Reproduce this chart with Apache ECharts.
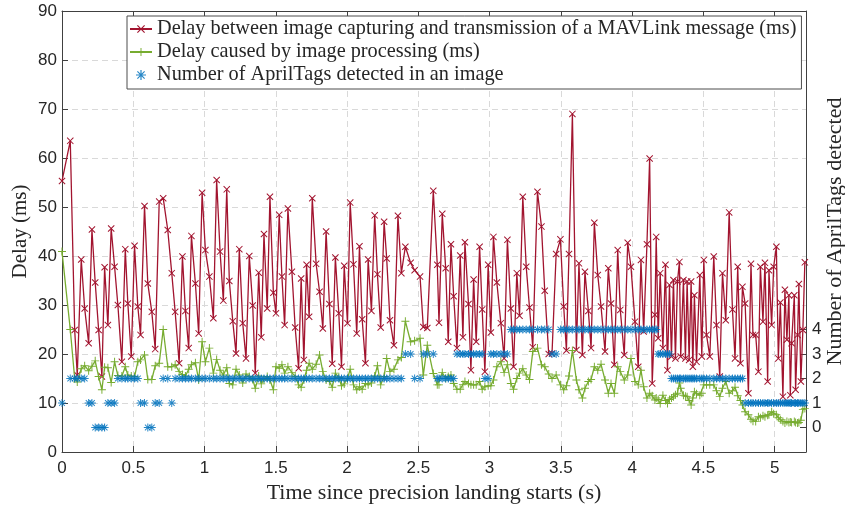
<!DOCTYPE html>
<html>
<head>
<meta charset="utf-8">
<script src="https://cdn.jsdelivr.net/npm/echarts@6/dist/echarts.min.js"></script>
<style>
  html, body { margin: 0; padding: 0; background: #fff; }
  #ecPanel { width: 845px; height: 506px; }
</style>
</head>
<body>
<div id="ecPanel"></div>
<script>
// time of each image (s)
var times = [
  0.000,0.058,0.089,0.107,0.135,0.159,0.187,0.210,0.233,0.257,0.280,0.299,0.322,0.345,0.369,0.392,0.420,0.444,0.462,0.486,0.509,0.532,0.551,0.579,0.602,0.630,0.654,0.682,0.710,0.742,0.770,0.794,0.822,0.845,0.866,
  0.889,0.908,0.936,0.959,0.983,1.006,1.034,1.062,1.085,1.109,1.132,1.156,1.174,1.198,1.221,1.244,1.268,1.291,1.314,1.338,1.356,1.380,1.398,1.417,1.440,1.459,1.483,1.501,1.524,1.543,1.562,1.585,1.613,1.636,1.660,1.678,1.697,1.716,1.734,1.756,
  1.783,1.807,1.830,1.853,1.876,1.896,1.918,1.942,1.961,1.980,2.003,2.022,2.045,2.068,2.087,2.106,2.129,2.148,2.171,2.194,2.213,2.236,2.260,2.278,2.301,2.329,2.357,2.381,2.409,2.446,2.474,2.512,2.535,2.563,
  2.605,2.633,2.645,2.668,2.692,2.710,2.729,2.748,2.771,2.794,2.813,2.827,2.852,2.869,2.888,2.906,2.930,2.948,2.967,2.990,3.009,3.027,3.051,3.079,3.102,3.125,3.149,3.168,3.191,3.210,3.233,3.257,3.280,3.303,3.336,3.364,3.387,3.415,3.438,3.467,3.497,
  3.520,3.539,3.557,3.581,3.609,3.627,3.651,3.669,3.693,3.712,3.735,3.759,3.782,3.810,3.833,3.852,3.875,3.899,3.917,3.945,3.969,3.992,4.020,4.043,4.062,4.081,4.104,4.123,4.141,4.160,4.169,4.183,4.197,4.216,4.234,4.248,4.262,4.276,4.290,4.304,4.318,4.332,4.341,
  4.360,4.374,4.386,4.400,4.414,4.426,4.437,4.452,4.475,4.489,4.503,4.522,4.545,4.573,4.592,4.615,4.634,4.657,4.681,4.704,4.722,4.741,4.760,4.774,4.793,4.816,4.834,4.848,4.867,4.886,4.900,4.918,4.932,4.951,4.960,4.979,4.993,5.012,5.026,5.040,5.058,5.072,5.086,5.100,5.110,5.119,5.138,5.147,5.161,5.170,5.184,5.198,5.212
];

// delay between image capturing and MAVLink transmission (ms)
var delayTx = [
  55.3,63.5,24.9,15.7,39.3,29.3,22.2,45.4,34.6,24.9,15.4,37.7,25.9,45.6,37.8,30.0,18.4,41.4,30.3,19.5,42.1,29.7,23.9,50.2,34.4,28.6,21.0,51.1,51.8,45.3,36.5,28.6,18.1,39.9,28.8,
  21.2,44.1,34.4,24.2,52.9,41.2,35.8,27.3,55.5,40.9,30.9,53.6,34.9,26.7,20.1,41.4,26.3,19.1,40.0,29.9,16.1,36.6,23.4,44.5,29.3,52.1,32.5,28.3,48.4,35.8,25.9,49.7,36.8,25.4,17.1,35.4,18.8,38.2,27.6,51.8,
  38.4,32.7,25.2,45.0,30.2,18.0,39.7,28.3,17.4,38.0,26.3,50.9,38.3,24.2,42.0,27.1,18.1,39.3,28.8,48.3,36.3,25.4,47.0,39.5,26.9,21.8,48.2,36.5,41.9,38.6,37.1,35.8,25.5,25.3,
  53.3,38.2,26.4,48.6,37.5,22.5,42.4,31.8,21.2,40.1,23.4,42.8,30.2,16.7,35.2,22.5,41.9,29.1,16.4,38.2,24.4,43.9,34.6,26.3,19.1,43.3,29.3,17.4,36.5,27.8,52.1,37.8,29.5,21.4,53.1,46.0,32.9,20.0,20.1,40.4,43.4,
  29.7,20.7,40.4,69.0,20.8,38.5,19.8,36.8,28.8,21.2,46.8,36.1,29.7,20.5,37.5,30.3,17.8,41.2,29.0,19.8,42.7,37.8,26.6,17.4,39.2,24.6,42.4,59.9,14.0,28.0,43.9,23.2,36.5,21.2,38.2,16.7,34.1,19.5,35.1,19.1,34.8,38.8,19.5,
  35.1,19.1,34.8,18.8,34.8,17.4,32.0,18.4,36.1,19.5,39.2,23.9,19.5,39.9,25.9,15.4,36.5,26.9,48.9,29.1,19.1,37.8,18.1,33.7,30.3,12.0,38.4,23.9,23.9,16.4,37.8,26.6,38.6,14.4,37.1,25.9,37.8,41.9,19.1,30.5,11.3,33.1,22.9,32.0,11.6,22.2,32.0,12.7,23.9,34.3,14.4,24.9,38.7
];

// delay caused by image processing (ms)
var delayProc = [
  40.9,25.0,15.0,14.3,17.0,17.6,16.6,17.5,18.6,15.4,12.7,17.3,17.2,14.2,18.4,15.6,15.5,17.4,15.7,15.5,15.4,18.4,18.8,19.8,14.8,14.8,17.6,18.1,25.0,17.4,17.4,17.8,16.4,15.8,15.5,
  16.9,17.8,18.2,14.7,22.5,18.4,21.2,16.1,18.9,16.7,15.7,17.2,14.0,13.7,16.9,15.7,14.1,15.9,15.4,14.8,13.0,15.5,13.9,14.8,15.4,14.7,12.7,17.4,17.1,17.8,16.1,17.4,16.2,15.4,13.7,13.2,14.7,16.7,18.1,16.9,
  17.9,19.8,16.4,14.7,14.4,13.2,16.1,15.2,13.5,13.9,15.0,16.9,13.7,12.7,13.3,12.8,14.0,13.7,14.1,15.5,17.6,13.7,15.4,19.1,16.4,16.9,18.8,19.3,26.7,22.5,22.7,23.2,15.7,21.8,
  16.0,13.7,13.7,16.2,15.0,15.4,15.7,14.0,12.8,12.8,13.8,14.4,14.0,13.7,13.7,13.7,14.4,12.8,13.3,13.5,13.5,14.7,17.4,18.4,16.2,17.8,14.0,12.8,15.0,16.1,17.0,15.7,14.8,20.5,21.2,17.8,17.4,15.9,15.0,15.7,13.7,
  12.7,13.5,15.5,20.7,14.7,12.7,11.0,13.0,14.4,14.8,17.4,16.7,17.9,14.7,12.0,14.0,12.0,17.4,16.4,14.7,15.7,19.1,14.4,13.7,16.7,13.3,11.0,12.0,11.5,10.6,11.0,10.7,9.9,11.6,10.5,9.9,10.7,11.0,11.3,11.7,12.0,14.1,13.0,
  11.6,11.4,11.3,10.5,9.6,11.0,12.3,11.9,11.6,12.0,13.7,13.7,13.7,13.7,12.5,11.3,13.0,14.4,12.0,12.5,13.2,11.5,10.5,9.6,8.2,7.6,6.7,6.3,6.2,7.2,7.0,7.4,7.2,7.5,7.6,8.2,7.8,7.6,7.0,6.6,6.2,5.9,6.2,6.0,6.1,6.0,6.2,6.0,5.9,6.0,6.5,8.7,8.9
];

// number of AprilTags detected in each image
var tagCounts = [
  1,2,2,2,2,2,1,1,0,0,0,0,1,1,1,2,2,2,2,2,2,2,1,1,0,0,1,1,2,2,1,2,2,2,2,
  2,2,2,2,2,2,2,2,2,2,2,2,2,2,2,2,2,2,2,2,2,2,2,2,2,2,2,2,2,2,2,2,2,2,2,2,2,2,2,2,
  2,2,2,2,2,2,2,2,2,2,2,2,2,2,2,2,2,2,2,2,2,2,2,2,2,2,2,2,3,3,2,2,3,3,
  3,2,2,2,2,2,2,2,3,3,3,3,3,3,3,3,3,3,2,2,3,3,3,3,3,3,4,4,4,4,4,4,4,4,4,4,4,4,3,3,4,
  4,4,4,4,4,4,4,4,4,4,4,4,4,4,4,4,4,4,4,4,4,4,4,4,4,4,4,4,4,4,4,3,3,3,3,3,3,2,2,2,2,2,2,
  2,2,2,2,2,2,2,2,2,2,2,2,2,2,2,2,2,2,2,2,2,2,2,2,1,1,1,1,1,1,1,1,1,1,1,1,1,1,1,1,1,1,1,1,1,1,1,1,1,1,1,1,1
];

var xTicks = [0, 0.5, 1, 1.5, 2, 2.5, 3, 3.5, 4, 4.5, 5];
var tagTicks = [0, 1, 2, 3, 4];

var legendNames = [
  "Delay between image capturing and transmission of a MAVLink message (ms)",
  "Delay caused by image processing (ms)",
  "Number of AprilTags detected in an image"
];

// marker shapes (MATLAB x, + and *)
var symCross = "path://M1,1.8L1.8,1L9,8.2L8.2,9Z M8.2,1L9,1.8L1.8,9L1,8.2Z";
var symPlus = "path://M0,4.4L10,4.4L10,5.6L0,5.6Z M4.4,0L5.6,0L5.6,10L4.4,10Z";
var symStar = "path://M0,4.4L10,4.4L10,5.6L0,5.6Z M4.4,0L5.6,0L5.6,10L4.4,10Z M1,1.8L1.8,1L9,8.2L8.2,9Z M8.2,1L9,1.8L1.8,9L1,8.2Z";

function pairs(xs, ys) {
  var out = [];
  for (var i = 0; i < xs.length; i++) {
    out.push([xs[i], ys[i]]);
  }
  return out;
}

var serif = "Liberation Serif";
var sans = "Liberation Sans";
var axisColor = "#404040";
var textColor = "#262626";

var chart = echarts.init(document.getElementById("ecPanel"));
var option = {
  animation: false,
  backgroundColor: "#fff",
  grid: { left: 62, right: 39, top: 11, bottom: 54, outerBoundsMode: "none" },
  legend: {
    orient: "vertical",
    left: 127,
    top: 16,
    data: legendNames,
    backgroundColor: "#fff",
    borderColor: "#4d4d4d",
    borderWidth: 1,
    borderRadius: 0,
    padding: [3, 5, 4, 2],
    itemGap: 3,
    itemWidth: 22,
    itemHeight: 10,
    textStyle: { fontFamily: serif, fontSize: 20.3, color: textColor }
  },
  xAxis: [{
    type: "value",
    min: 0,
    max: 5.22,
    interval: 0.5,
    name: "Time since precision landing starts (s)",
    nameLocation: "middle",
    nameGap: 30,
    nameMoveOverlap: false,
    nameTextStyle: { fontFamily: serif, fontSize: 22, color: textColor },
    axisLine: { show: true, onZero: false, lineStyle: { color: axisColor, width: 1 } },
    axisTick: { show: true, inside: true, length: 6, customValues: xTicks, lineStyle: { color: axisColor } },
    axisLabel: { customValues: xTicks, fontFamily: sans, fontSize: 17, color: textColor, margin: 8 },
    splitLine: { show: true, lineStyle: { color: "#d9d9d9", type: [6, 4], width: 1 } }
  }, {
    type: "value",
    position: "top",
    min: 0,
    max: 5.22,
    interval: 0.5,
    axisLine: { show: true, onZero: false, lineStyle: { color: axisColor, width: 1 } },
    axisTick: { show: true, inside: true, length: 6, customValues: xTicks, lineStyle: { color: axisColor } },
    axisLabel: { show: false },
    splitLine: { show: false }
  }],
  yAxis: [{
    type: "value",
    min: 0,
    max: 90,
    interval: 10,
    name: "Delay (ms)",
    nameLocation: "middle",
    nameRotate: 90,
    nameGap: 31,
    nameMoveOverlap: false,
    nameTextStyle: { fontFamily: serif, fontSize: 21, color: textColor },
    axisLine: { show: true, onZero: false, lineStyle: { color: axisColor, width: 1 } },
    axisTick: { show: true, inside: true, length: 6, lineStyle: { color: axisColor } },
    axisLabel: { fontFamily: sans, fontSize: 17, color: textColor, margin: 5 },
    splitLine: { show: true, lineStyle: { color: "#d9d9d9", type: [6, 4], width: 1 } }
  }, {
    type: "value",
    position: "right",
    min: -1,
    max: 17,
    interval: 1,
    name: "Number of AprilTags detected",
    nameLocation: "middle",
    nameRotate: 90,
    nameGap: 18,
    nameMoveOverlap: false,
    nameTextStyle: { fontFamily: serif, fontSize: 22, color: textColor },
    axisLine: { show: true, onZero: false, lineStyle: { color: axisColor, width: 1 } },
    axisTick: { show: true, inside: true, length: 6, customValues: tagTicks, lineStyle: { color: axisColor } },
    axisLabel: { customValues: tagTicks, fontFamily: sans, fontSize: 17, color: textColor, margin: 6 },
    splitLine: { show: false }
  }],
  series: [{
    name: legendNames[0],
    type: "line",
    data: pairs(times, delayTx),
    symbol: symCross,
    symbolSize: 7,
    showAllSymbol: true,
    color: "#A2142F",
    lineStyle: { color: "#A2142F", width: 1.3 },
    itemStyle: { color: "#A2142F" },
    z: 3
  }, {
    name: legendNames[1],
    type: "line",
    data: pairs(times, delayProc),
    symbol: symPlus,
    symbolSize: 8,
    showAllSymbol: true,
    color: "#77AC30",
    lineStyle: { color: "#77AC30", width: 1.3 },
    itemStyle: { color: "#77AC30" },
    z: 4
  }, {
    name: legendNames[2],
    type: "scatter",
    yAxisIndex: 1,
    data: pairs(times, tagCounts),
    symbol: symStar,
    symbolSize: 8,
    color: "#0072BD",
    itemStyle: { color: "#0072BD", opacity: 0.85 },
    z: 5
  }]
};
chart.setOption(option);
</script>
</body>
</html>
